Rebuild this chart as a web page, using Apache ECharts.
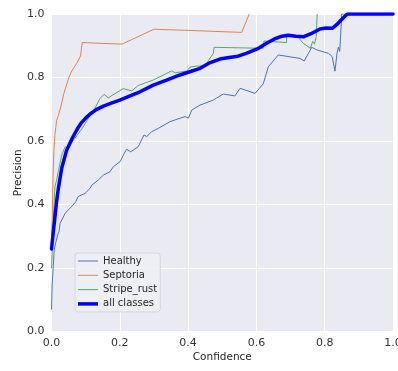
<!DOCTYPE html>
<html>
<head>
<meta charset="utf-8">
<script src="https://cdn.jsdelivr.net/npm/echarts@6/dist/echarts.min.js"></script>
<style>html,body{margin:0;padding:0;background:#fff}#c{width:398px;height:371px}</style>
</head>
<body>
<div id="c"></div>
<script>
const seriesNames = ["Healthy", "Septoria", "Stripe_rust", "all classes"];
const xTicks = [0, 0.2, 0.4, 0.6, 0.8, 1.0];
const yTicks = [0, 0.2, 0.4, 0.6, 0.8, 1.0];

const healthy = [[0,0.07],[0.002,0.15],[0.005,0.20],[0.008,0.257],[0.012,0.278],[0.018,0.304],[0.022,0.314],[0.025,0.341],[0.030,0.351],[0.040,0.372],[0.049,0.383],[0.059,0.393],[0.071,0.409],[0.078,0.425],[0.098,0.435],[0.113,0.451],[0.118,0.461],[0.137,0.477],[0.152,0.493],[0.171,0.503],[0.181,0.519],[0.201,0.535],[0.213,0.561],[0.220,0.574],[0.232,0.566],[0.254,0.582],[0.271,0.619],[0.279,0.614],[0.293,0.629],[0.313,0.640],[0.347,0.661],[0.391,0.677],[0.401,0.672],[0.411,0.698],[0.435,0.713],[0.474,0.729],[0.503,0.748],[0.537,0.742],[0.552,0.766],[0.596,0.750],[0.620,0.780],[0.635,0.834],[0.640,0.839],[0.664,0.871],[0.728,0.860],[0.740,0.852],[0.762,0.895],[0.777,0.887],[0.811,0.876],[0.822,0.866],[0.830,0.820],[0.836,0.876],[0.840,0.895],[0.844,0.882],[0.850,1.0],[1.0,1.0]];
const septoria = [[0,0.30],[0.002,0.35],[0.004,0.47],[0.007,0.57],[0.010,0.62],[0.015,0.665],[0.020,0.68],[0.028,0.71],[0.035,0.745],[0.042,0.77],[0.051,0.80],[0.059,0.82],[0.074,0.845],[0.085,0.868],[0.090,0.91],[0.206,0.905],[0.300,0.952],[0.435,0.947],[0.557,0.942],[0.579,1.0]];
const stripeRust = [[0,0.20],[0.005,0.35],[0.010,0.456],[0.015,0.477],[0.020,0.506],[0.030,0.556],[0.040,0.582],[0.049,0.577],[0.059,0.596],[0.069,0.609],[0.090,0.640],[0.110,0.675],[0.127,0.703],[0.142,0.734],[0.154,0.747],[0.166,0.736],[0.210,0.765],[0.235,0.758],[0.254,0.775],[0.298,0.792],[0.352,0.821],[0.362,0.815],[0.396,0.820],[0.406,0.833],[0.425,0.836],[0.452,0.836],[0.459,0.853],[0.474,0.876],[0.476,0.895],[0.620,0.892],[0.622,0.915],[0.688,0.910],[0.689,0.935],[0.708,0.934],[0.723,0.926],[0.737,0.908],[0.758,0.892],[0.765,0.914],[0.770,0.905],[0.775,0.928],[0.778,1.0]];
const allClasses = [[0,0.26],[0.002,0.28],[0.006,0.32],[0.010,0.36],[0.015,0.41],[0.020,0.45],[0.030,0.515],[0.044,0.570],[0.059,0.605],[0.075,0.637],[0.088,0.658],[0.100,0.672],[0.113,0.685],[0.130,0.698],[0.152,0.710],[0.175,0.719],[0.200,0.729],[0.230,0.742],[0.259,0.755],[0.298,0.776],[0.337,0.792],[0.376,0.808],[0.405,0.818],[0.435,0.829],[0.465,0.847],[0.493,0.858],[0.520,0.863],[0.542,0.866],[0.570,0.876],[0.601,0.889],[0.630,0.908],[0.654,0.922],[0.675,0.930],[0.693,0.933],[0.715,0.930],[0.737,0.928],[0.760,0.938],[0.786,0.953],[0.805,0.956],[0.822,0.955],[0.836,0.967],[0.848,0.981],[0.866,1.0],[1.0,1.0]];

const seriesData = [healthy, septoria, stripeRust, allClasses];
const colors = ["#4C72B0", "#DD8452", "#55A868", "#0000FF"];
const widths = [1, 1, 1, 3.5];
const thinIcon = 'path://M0,0H40V2H0Z';
const thickIcon = 'path://M0,0H40V7H0Z';

const chart = echarts.init(document.getElementById('c'), null, {renderer: 'canvas'});
const font = 'DejaVu Sans';
chart.setOption({
  animation: false,
  backgroundColor: '#ffffff',
  grid: {left: 51.5, right: 5, top: 14, bottom: 39.5, show: true, backgroundColor: '#EAEAF2', borderWidth: 0, outerBoundsMode: 'none', containLabel: false},
  xAxis: {
    type: 'value', min: 0, max: 1, interval: 0.2,
    name: 'Confidence', nameLocation: 'middle', nameGap: 20.5, nameMoveOverlap: false,
    nameTextStyle: {fontFamily: font, fontSize: 10.5, color: '#262626'},
    axisLine: {show: false}, axisTick: {show: false},
    axisLabel: {fontFamily: font, fontSize: 11, color: '#333', margin: 6, formatter: v => xTicks.includes(+v.toFixed(1)) ? v.toFixed(1) : ''},
    splitLine: {show: true, lineStyle: {color: '#ffffff', width: 1}}
  },
  yAxis: {
    type: 'value', min: 0, max: 1, interval: 0.2,
    name: 'Precision', nameLocation: 'middle', nameGap: 27.5, nameMoveOverlap: false,
    nameTextStyle: {fontFamily: font, fontSize: 10.5, color: '#262626'},
    axisLine: {show: false}, axisTick: {show: false},
    axisLabel: {fontFamily: font, fontSize: 11, color: '#333', margin: 7, formatter: v => yTicks.includes(+v.toFixed(1)) ? v.toFixed(1) : ''},
    splitLine: {show: true, lineStyle: {color: '#ffffff', width: 1}}
  },
  legend: {
    orient: 'vertical', left: 75, top: 253,
    data: seriesNames.map((n, i) => ({name: n, icon: i === 3 ? thickIcon : thinIcon})),
    itemWidth: 20, itemHeight: 10, itemGap: 4.3,
    textStyle: {fontFamily: font, fontSize: 10, color: '#262626'},
    backgroundColor: 'rgba(238,238,245,0.9)', borderColor: '#d6d6de', borderWidth: 1, borderRadius: 3,
    padding: [3, 3, 3, 3]
  },
  series: seriesNames.map((n, i) => ({
    name: n, type: 'line', data: seriesData[i], symbol: 'none', showSymbol: false,
    lineStyle: {color: colors[i], width: widths[i], join: 'round', cap: 'round'}, itemStyle: {color: colors[i]},
    z: i === 3 ? 5 : 2, clip: true
  }))
});
</script>
</body>
</html>
